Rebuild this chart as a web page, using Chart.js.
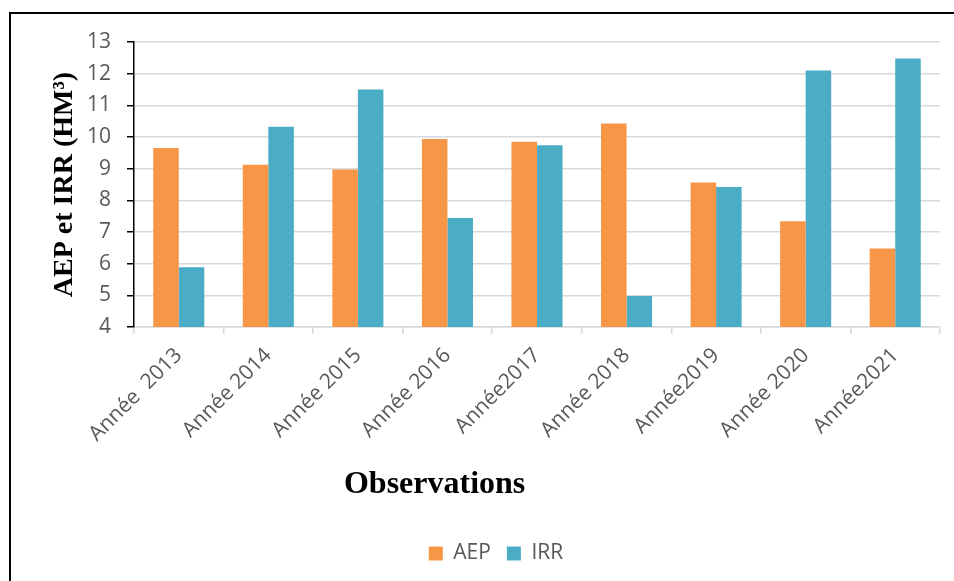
<!DOCTYPE html>
<html>
<head>
<meta charset="utf-8">
<script src="https://cdn.jsdelivr.net/npm/chart.js@4"></script>
<style>
  html, body { margin: 0; padding: 0; background: #fff; }
  #wrap { position: relative; width: 954px; height: 581px; overflow: hidden; }
  #frame { position: absolute; left: 9px; top: 12px; width: 1000px; height: 1000px; border: 2px solid #000; box-sizing: border-box; }
  canvas { position: absolute; left: 0; top: 0; }
</style>
</head>
<body>
<div id="wrap">
  <div id="frame"></div>
  <canvas id="chart" width="954" height="581"></canvas>
</div>
<script>
const categories = ['Année  2013', 'Année 2014', 'Année 2015', 'Année 2016', 'Année2017', 'Année 2018', 'Année2019', 'Année 2020', 'Année2021'];
const aep = [9.65, 9.12, 8.97, 9.94, 9.85, 10.43, 8.56, 7.34, 6.48];
const irr = [5.89, 10.32, 11.5, 7.44, 9.74, 4.98, 8.42, 12.1, 12.48];
const yTicks = [4, 5, 6, 7, 8, 9, 10, 11, 12, 13];

const labelFont = { family: '"Open Sans", sans-serif', size: 21 };
const grey = '#595959';

// "Observations" sits left of the plot centre in the original, so draw it by hand
const xTitle = {
  id: 'xTitle',
  afterDraw(chart) {
    const { ctx, chartArea } = chart;
    ctx.save();
    ctx.font = 'bold 32px "Liberation Serif", serif';
    ctx.fillStyle = '#000';
    ctx.textAlign = 'center';
    ctx.textBaseline = 'alphabetic';
    ctx.fillText('Observations', chartArea.left + chartArea.width * 0.373, chartArea.bottom + 166);
    ctx.restore();
  }
};

new Chart(document.getElementById('chart').getContext('2d'), {
  type: 'bar',
  data: {
    labels: categories,
    datasets: [
      { label: 'AEP', data: aep, backgroundColor: '#F79646', barPercentage: 1, categoryPercentage: 0.57 },
      { label: 'IRR', data: irr, backgroundColor: '#4BACC6', barPercentage: 1, categoryPercentage: 0.57 }
    ]
  },
  options: {
    responsive: false,
    animation: false,
    layout: { padding: { left: 52, right: 14, top: 42, bottom: 7 } },
    plugins: {
      legend: {
        position: 'bottom',
        labels: { boxWidth: 14, boxHeight: 14, padding: 16, font: labelFont, color: grey }
      },
      tooltip: { enabled: false }
    },
    scales: {
      x: {
        grid: { offset: true, drawOnChartArea: false, color: '#d9d9d9', lineWidth: 1.5, tickLength: 7 },
        border: { color: '#d9d9d9', width: 1.5 },
        ticks: { font: labelFont, color: grey, minRotation: 45, maxRotation: 45, padding: 9 },
        afterFit: s => { s.height = 200; }
      },
      y: {
        min: 4,
        max: 13,
        afterBuildTicks: s => { s.ticks = yTicks.map(v => ({ value: v })); },
        grid: { color: '#d9d9d9', lineWidth: 1.5, tickColor: '#000', tickLength: 7 },
        border: { color: '#000', width: 1.5 },
        ticks: { font: labelFont, color: grey, padding: 16 },
        title: {
          display: true,
          text: 'AEP et IRR (HM³)',
          font: { family: '"Liberation Serif", serif', size: 28, weight: 'bold' },
          color: '#000',
          padding: { top: -4, bottom: 0 }
        },
        afterFit: s => { s.width = 82; }
      }
    }
  },
  plugins: [xTitle]
});
</script>
</body>
</html>
